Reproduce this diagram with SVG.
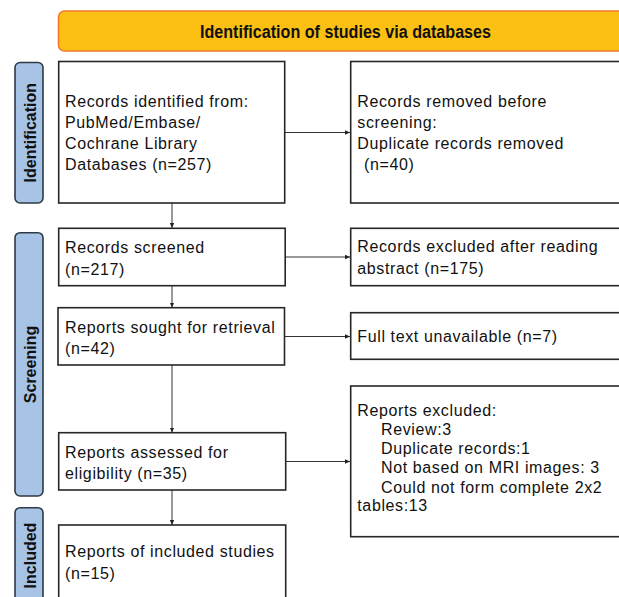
<svg xmlns="http://www.w3.org/2000/svg" width="619" height="597" viewBox="0 0 619 597">
<defs>
<marker id="ah" markerWidth="6" markerHeight="6" refX="5" refY="3" orient="auto" markerUnits="userSpaceOnUse"><path d="M0,0.8 L5,3 L0,5.2 Z" fill="#222"/></marker>
<style>
.box{fill:#fff;stroke:#262626;stroke-width:1.6}
.side{fill:#A7C4E6;stroke:#2E3A46;stroke-width:1.6}
.t{font-family:"Liberation Sans",Arial,sans-serif;font-size:16px;fill:#111;letter-spacing:0.62px}
.s{font-family:"Liberation Sans",Arial,sans-serif;font-size:16px;font-weight:bold;fill:#111}
.c{fill:none;stroke:#333;stroke-width:1}
</style>
</defs>
<rect width="619" height="597" fill="#fff"/>
<g id="banner">
<rect x="58.5" y="11" width="580" height="40" rx="6" fill="#FBC012" stroke="#F07A2E" stroke-width="1.6"/>
<text x="200" y="37.5" font-family="'Liberation Sans',Arial,sans-serif" font-size="17.5" font-weight="bold" fill="#111" textLength="291" lengthAdjust="spacingAndGlyphs">Identification of studies via databases</text>
</g>
<g id="side-identification">
<rect class="side" x="15" y="62.5" width="28" height="140.5" rx="5"/>
<text class="s" transform="translate(35.5,132.7) rotate(-90)" text-anchor="middle">Identification</text>
</g>
<g id="side-screening">
<rect class="side" x="15" y="232.7" width="28" height="263.3" rx="5"/>
<text class="s" transform="translate(35.5,364.5) rotate(-90)" text-anchor="middle">Screening</text>
</g>
<g id="side-included">
<rect class="side" x="15" y="507.7" width="28" height="110" rx="5"/>
<text class="s" transform="translate(35.5,555.5) rotate(-90)" text-anchor="middle">Included</text>
</g>
<g id="connectors">
<line class="c" x1="285" y1="132.5" x2="350" y2="132.5" marker-end="url(#ah)"/>
<line class="c" x1="285" y1="257" x2="350" y2="257" marker-end="url(#ah)"/>
<line class="c" x1="285" y1="336.5" x2="350" y2="336.5" marker-end="url(#ah)"/>
<line class="c" x1="285.5" y1="461.5" x2="350" y2="461.5" marker-end="url(#ah)"/>
<line class="c" x1="172" y1="203" x2="172" y2="228" marker-end="url(#ah)"/>
<line class="c" x1="172" y1="286" x2="172" y2="307.5" marker-end="url(#ah)"/>
<line class="c" x1="172" y1="365" x2="172" y2="432.5" marker-end="url(#ah)"/>
<line class="c" x1="172" y1="490" x2="172" y2="525" marker-end="url(#ah)"/>
</g>
<g id="records-identified">
<rect class="box" x="58.7" y="61.5" width="226" height="141.5"/>
<text class="t" x="65" y="106.7">Records identified from:</text>
<text class="t" x="65" y="127.5">PubMed/Embase/</text>
<text class="t" x="65" y="149.3">Cochrane Library</text>
<text class="t" x="65" y="170">Databases (n=257)</text>
</g>
<g id="records-removed">
<rect class="box" x="350.7" y="61.5" width="290" height="141.5"/>
<text class="t" x="357.3" y="106.7">Records removed before</text>
<text class="t" x="357.3" y="127.5">screening:</text>
<text class="t" x="357.3" y="149.3">Duplicate records removed</text>
<text class="t" x="364" y="170">(n=40)</text>
</g>
<g id="records-screened">
<rect class="box" x="58.7" y="228.3" width="226.5" height="57.4"/>
<text class="t" x="65" y="253.3">Records screened</text>
<text class="t" x="65" y="275">(n=217)</text>
</g>
<g id="records-excluded">
<rect class="box" x="350.7" y="228.3" width="290" height="57.4"/>
<text class="t" x="357.3" y="252">Records excluded after reading</text>
<text class="t" x="357.3" y="273.5">abstract (n=175)</text>
</g>
<g id="reports-sought">
<rect class="box" x="58" y="307.7" width="226.5" height="57.3"/>
<text class="t" x="65" y="333.3">Reports sought for retrieval</text>
<text class="t" x="65" y="353.5">(n=42)</text>
</g>
<g id="full-text-unavailable">
<rect class="box" x="350.7" y="312.7" width="290" height="46.6"/>
<text class="t" x="357.3" y="341.7">Full text unavailable (n=7)</text>
</g>
<g id="reports-assessed">
<rect class="box" x="58.7" y="432.7" width="227" height="57.3"/>
<text class="t" x="65" y="458.3">Reports assessed for</text>
<text class="t" x="65" y="479">eligibility (n=35)</text>
</g>
<g id="reports-excluded">
<rect class="box" x="350.7" y="386" width="290" height="150.7"/>
<text class="t" x="357.3" y="416">Reports excluded:</text>
<text class="t" x="381" y="435">Review:3</text>
<text class="t" x="381" y="453.5">Duplicate records:1</text>
<text class="t" x="381" y="473.3">Not based on MRI images: 3</text>
<text class="t" x="381" y="492.7">Could not form complete 2x2</text>
<text class="t" x="357.3" y="510.7">tables:13</text>
</g>
<g id="reports-included">
<rect class="box" x="58.7" y="525" width="227" height="90"/>
<text class="t" x="65" y="556.7">Reports of included studies</text>
<text class="t" x="65" y="579">(n=15)</text>
</g>
</svg>
